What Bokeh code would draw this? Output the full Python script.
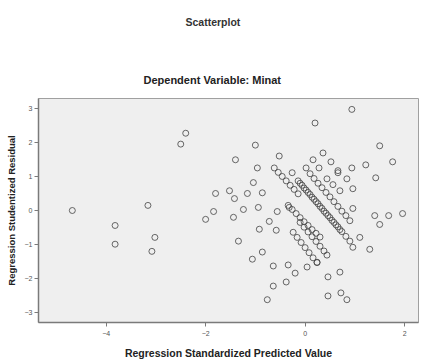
from bokeh.plotting import figure
from bokeh.models import Title, FixedTicker, Range1d
from bokeh.embed import file_html
from bokeh.resources import INLINE

# Regression standardized predicted value (x) and studentized residual (y)
outer_x = [-4.68, -3.82, -3.82, -3.16, -3.02, -3.08, -2.40, -2.50, 0.20, 0.94,
           -1.00, -1.40, -0.96, -0.52, 0.36, 0.16, 0.52, 0.02, 0.28, 0.66,
           0.94, 1.22, 1.50, 1.76, 1.42, -1.04, -1.52, -1.80, -1.42, -1.16,
           -0.86, -1.84, -2.00, -1.44, -1.24, -0.94, -0.56, -0.72, -0.92, -0.58,
           -0.32, 0.96, 1.40, 1.50, 1.68, 1.96, -1.34, -0.86, -1.06, -0.64,
           -0.34, -0.20, 0.04, 0.24, 1.10, 0.96, 1.30, 0.70, 0.46, -0.38,
           -0.64, -0.76, 0.46, 0.72, 0.84, -0.26, 0.84, 0.96, 0.66]
outer_y = [0.00, -0.44, -0.99, 0.15, -0.79, -1.20, 2.27, 1.95, 2.57, 2.97,
           1.92, 1.49, 1.25, 1.60, 1.69, 1.49, 1.43, 1.25, 1.25, 1.17,
           1.25, 1.34, 1.90, 1.43, 0.96, 0.82, 0.58, 0.50, 0.35, 0.50,
           0.52, -0.03, -0.26, -0.20, 0.03, 0.09, -0.03, -0.32, -0.55, -0.58,
           0.09, 0.06, -0.15, -0.41, -0.15, -0.09, -0.90, -1.22, -1.43, -1.63,
           -1.60, -1.84, -1.66, -1.52, -0.79, -1.08, -1.14, -1.81, -1.95, -2.10,
           -2.22, -2.62, -2.51, -2.42, -2.62, 1.11, 0.93, 0.64, 1.11]

band_x = [-0.62, -0.54, -0.46, -0.38, -0.30, -0.22, -0.14,
          -0.14, -0.06, 0.02, 0.10, 0.18, 0.26, 0.34, 0.42, 0.50, 0.58, 0.66, 0.74, 0.82, 0.90,
          -0.10, -0.02, 0.06, 0.14, 0.22, 0.30, 0.38, 0.46, 0.54, 0.62, 0.70,
          0.10, 0.18, 0.26, 0.34, 0.42, 0.50, 0.58, 0.66, 0.74, 0.82, 0.90,
          -0.34, -0.26, -0.18, -0.10, -0.02, 0.06, 0.14, 0.22, 0.30,
          -0.10, -0.02, 0.06, 0.14, 0.22, 0.30, 0.38, 0.44,
          -0.24, -0.16, -0.08, 0.00, 0.08, 0.16, 0.24,
          0.44, 0.56, 0.70]
band_y = [1.25, 1.12, 1.00, 0.87, 0.74, 0.62, 0.49,
          0.87, 0.74, 0.60, 0.47, 0.33, 0.20, 0.06, -0.08, -0.21, -0.35, -0.48, -0.62, -0.76, -0.90,
          0.80, 0.66, 0.53, 0.39, 0.26, 0.12, -0.02, -0.15, -0.29, -0.42, -0.56,
          1.08, 0.94, 0.80, 0.67, 0.53, 0.40, 0.26, 0.12, -0.02, -0.15, -0.30,
          0.15, 0.03, -0.09, -0.21, -0.33, -0.44, -0.56, -0.67, -0.78,
          -0.35, -0.49, -0.63, -0.77, -0.91, -1.05, -1.19, -1.31,
          -0.64, -0.79, -0.94, -1.09, -1.24, -1.39, -1.53,
          0.93, 0.76, 0.58]

x_ticks = [-4, -2, 0, 2]
y_ticks = [-3, -2, -1, 0, 1, 2, 3]

FONT = "Liberation Sans"

p = figure(width=423, height=361, output_backend="svg", toolbar_location=None,
           x_range=Range1d(-5.36, 2.28), y_range=Range1d(-3.29, 3.29),
           min_border_left=38, min_border_right=5, min_border_top=97, min_border_bottom=38)

p.background_fill_color = "#efefef"
p.border_fill_color = "white"
p.outline_line_color = "#a0a0a0"
p.xgrid.visible = False
p.ygrid.visible = False

for ax in (p.xaxis[0], p.yaxis[0]):
    ax.axis_line_color = "#7a7a7a"
    ax.axis_line_width = 1.5
    ax.major_tick_line_color = "#7a7a7a"
    ax.minor_tick_line_color = None
    ax.major_tick_out = 4
    ax.major_tick_in = 0
    ax.major_label_text_font = FONT
    ax.major_label_text_font_size = "7px"
    ax.major_label_text_color = "#555555"
    ax.axis_label_text_font = FONT
    ax.axis_label_text_font_style = "bold"
    ax.axis_label_text_color = "#222222"

p.xaxis.axis_label_text_font_size = "10.5px"
p.yaxis.axis_label_text_font_size = "9.5px"
p.xaxis.ticker = FixedTicker(ticks=x_ticks)
p.yaxis.ticker = FixedTicker(ticks=y_ticks)
p.xaxis.axis_label = "Regression Standardized Predicted Value"
p.yaxis.axis_label = "Regression Studentized Residual"
p.xaxis.major_label_standoff = 4
p.yaxis.major_label_standoff = 2
p.xaxis.axis_label_standoff = 8
p.yaxis.axis_label_standoff = 5

p.scatter(outer_x, outer_y, marker="circle", size=6, fill_alpha=0,
          line_color="#444444", line_width=1, line_alpha=0.8)
p.scatter(band_x, band_y, marker="circle", size=6, fill_alpha=0,
          line_color="#444444", line_width=1, line_alpha=0.8)

p.add_layout(Title(text="Dependent Variable: Minat", align="left", offset=105,
                   standoff=26, text_font=FONT, text_font_size="11px",
                   text_font_style="bold", text_color="#222222"), "above")
# empty spacer between the two headings
p.add_layout(Title(text=" ", align="left", offset=0, standoff=5,
                   text_font=FONT, text_font_size="10px"), "above")
p.add_layout(Title(text="Scatterplot", align="left", offset=147,
                   standoff=26, text_font=FONT, text_font_size="10.5px",
                   text_font_style="bold", text_color="#333333"), "above")

open("out.html", "w").write(file_html(p, INLINE))
